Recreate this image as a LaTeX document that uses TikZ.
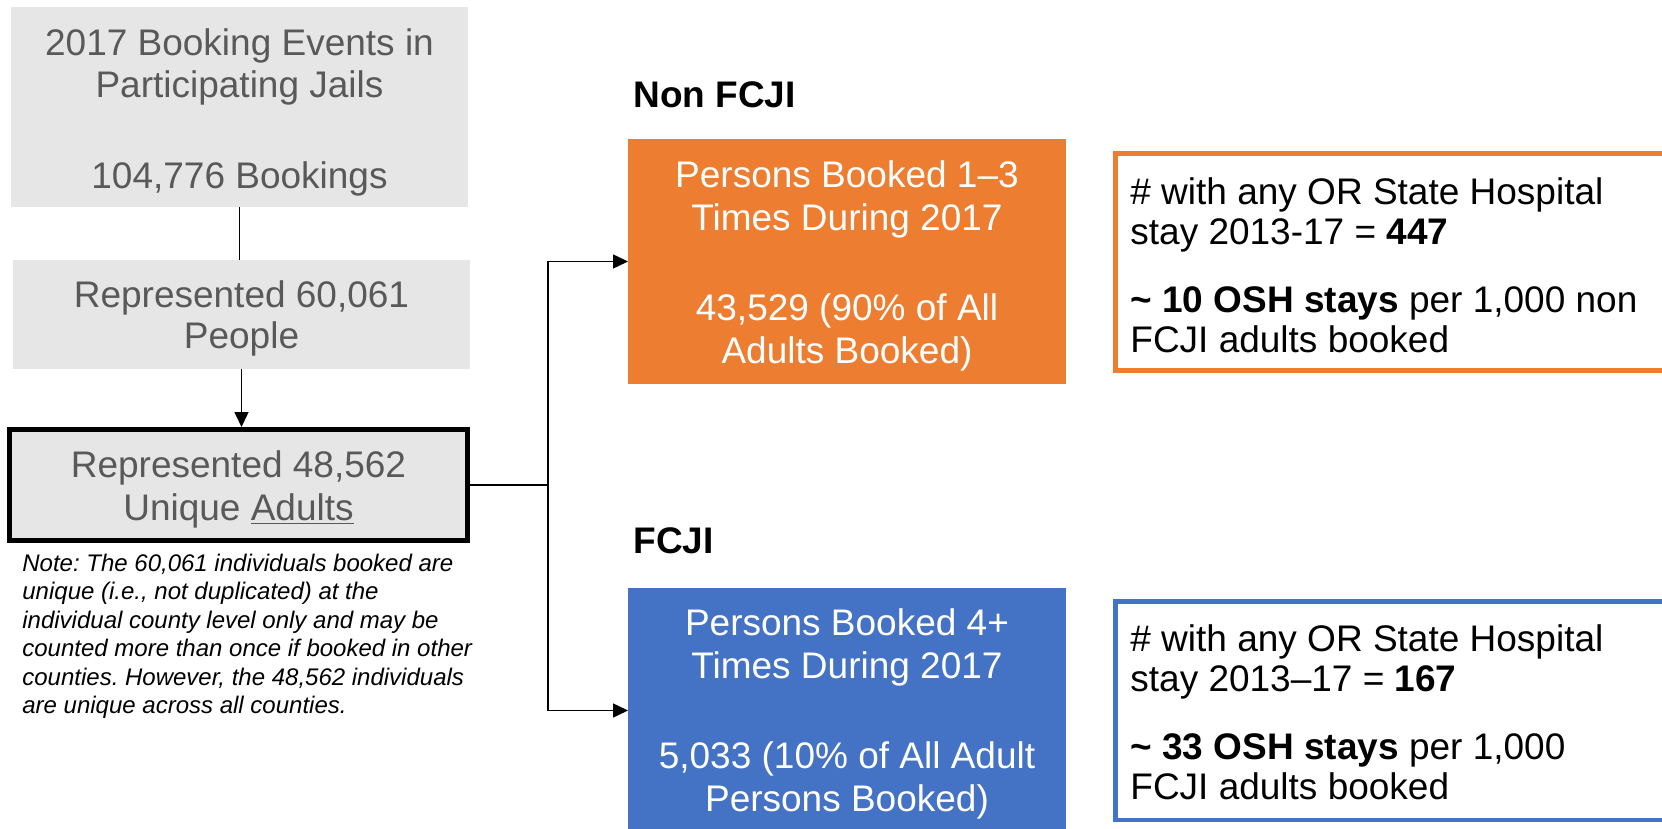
\documentclass[tikz,border=0pt]{standalone}
\usepackage{fontspec}
\setmainfont{Liberation Sans}
\usetikzlibrary{arrows.meta}
\definecolor{boxgray}{HTML}{E7E6E6}
\definecolor{txtgray}{HTML}{595959}
\definecolor{orangefill}{HTML}{ED7D31}
\definecolor{bluefill}{HTML}{4472C4}
\frenchspacing
\tikzset{
  graybox/.style={rectangle, fill=boxgray, inner sep=0pt, outer sep=0pt},
  colbox/.style={rectangle, inner sep=0pt, outer sep=0pt},
  outlinebox/.style={rectangle, draw, line width=2.25pt, fill=white, inner sep=0pt},
  bigtext/.style={inner sep=0pt, align=center, font=\fontsize{18.5pt}{21.25pt}\selectfont},
  sidetext/.style={inner sep=0pt, align=left, anchor=north west, font=\fontsize{18.5pt}{20pt}\selectfont},
  conn/.style={line width=0.75pt, black},
  arr/.style={-{Triangle[length=7.5pt,width=7pt]}},
}
\begin{document}
\begin{tikzpicture}[x=0.5pt,y=-0.5pt]
\useasboundingbox (0,0) rectangle (1662,829);
\clip (0,0) rectangle (1662,829);
\fill[white] (0,0) rectangle (1662,829);

% left column boxes
\node[graybox, minimum width=228.5pt, minimum height=100pt] (box1) at (239.5,107) {};
\node[bigtext, text=txtgray, anchor=north, font=\fontsize{18.5pt}{21pt}\selectfont] (t1) at (239.5,28.4)
  {2017 Booking Events in\\Participating Jails\\[24.5pt]104,776 Bookings};

\node[graybox, minimum width=228.5pt, minimum height=54.5pt] (box2) at (241.5,314.5) {};
\node[bigtext, text=txtgray, anchor=north, font=\fontsize{18.5pt}{20.5pt}\selectfont] (t2) at (241.5,280.4)
  {Represented 60,061\\People};

\node[graybox, draw=black, line width=2.5pt, outer sep=1.25pt, minimum width=229pt, minimum height=55.5pt] (box3) at (238.5,485) {};
\node[bigtext, text=txtgray, anchor=north, font=\fontsize{18.5pt}{21.5pt}\selectfont] (t3) at (238.5,450.4)
  {Represented 48,562\\Unique \underline{Adults}};

\node[inner sep=0pt, align=left, anchor=north west, font=\fontsize{12pt}{14.25pt}\selectfont\itshape] (note) at (22,553.7)
  {Note: The 60,061 individuals booked are\\unique (i.e., not duplicated) at the\\individual county level only and may be\\counted more than once if booked in other\\counties. However, the 48,562 individuals\\are unique across all counties.};

% group labels
\node[inner sep=0pt, anchor=base west, font=\fontsize{18.5pt}{21pt}\selectfont\bfseries] (lnon) at (633,108) {Non FCJI};
\node[inner sep=0pt, anchor=base west, font=\fontsize{18.5pt}{21pt}\selectfont\bfseries] (lfcji) at (633,553) {FCJI};

% coloured boxes
\node[colbox, fill=orangefill, minimum width=219pt, minimum height=122.5pt] (orange) at (847,261.5) {};
\node[bigtext, text=white, anchor=north, font=\fontsize{18.5pt}{21.5pt}\selectfont] (t4) at (847,160.4)
  {Persons Booked 1--3\\Times During 2017\\[23.5pt]43,529 (90\% of All\\Adults Booked)};

\node[colbox, fill=bluefill, minimum width=219pt, minimum height=122.5pt] (blue) at (847,710.5) {};
\node[bigtext, text=white, anchor=north, font=\fontsize{18.5pt}{21.5pt}\selectfont] (t5) at (847,608.4)
  {Persons Booked 4+\\Times During 2017\\[23.5pt]5,033 (10\% of All Adult\\Persons Booked)};

% outlined result boxes
\node[outlinebox, draw=orangefill, minimum width=342.25pt, minimum height=108.5pt] (res1) at (1457.75,262) {};
\node[sidetext] (t6) at (1130,177)
  {\# with any OR State Hospital\\stay 2013-17 = \textbf{447}\\[14pt]\textbf{\textasciitilde{} 10 OSH stays} per 1,000 non\\FCJI adults booked};

\node[outlinebox, draw=bluefill, minimum width=342.25pt, minimum height=109.25pt] (res2) at (1457.75,710.5) {};
\node[sidetext] (t7) at (1130,624)
  {\# with any OR State Hospital\\stay 2013--17 = \textbf{167}\\[14pt]\textbf{\textasciitilde{} 33 OSH stays} per 1,000\\FCJI adults booked};

% connectors
\coordinate (split) at (548,485);
\draw[conn] (box1.south) -- (box1.south |- box2.north);
\draw[conn, arr] (box2.south) -- (box2.south |- box3.north);
\draw[conn] (box3.east) -- (split);
\draw[conn, arr] (split) |- (orange.west);
\draw[conn, arr] (split) |- (blue.west);
\end{tikzpicture}
\end{document}
